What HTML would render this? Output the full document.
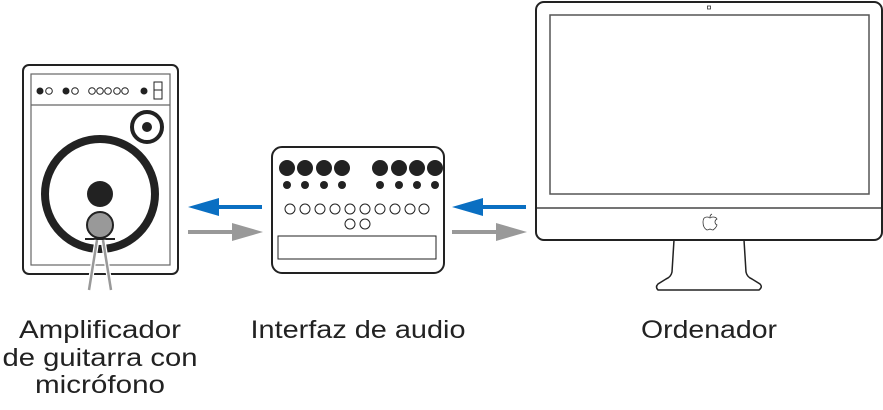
<!DOCTYPE html>
<html><head><meta charset="utf-8"><style>html,body{margin:0;padding:0;background:#fff}svg{display:block}</style></head>
<body>
<svg width="883" height="410" viewBox="0 0 883 410" xmlns="http://www.w3.org/2000/svg">
<!-- Amp -->
<rect x="23" y="65" width="155" height="209" rx="6" fill="#fff" stroke="#222" stroke-width="2"/>
<rect x="31" y="74" width="139" height="191" fill="none" stroke="#666" stroke-width="1.2"/>
<line x1="31" y1="105" x2="170" y2="105" stroke="#666" stroke-width="1.2"/>
<g fill="#222"><circle cx="40" cy="91" r="3.5"/><circle cx="66" cy="91" r="3.5"/><circle cx="144" cy="91" r="3.5"/></g>
<g fill="#fff" stroke="#222" stroke-width="1"><circle cx="49" cy="91" r="3.3"/><circle cx="75" cy="91" r="3.3"/><circle cx="92" cy="91" r="3.3"/><circle cx="100" cy="91" r="3.3"/><circle cx="108" cy="91" r="3.3"/><circle cx="117" cy="91" r="3.3"/><circle cx="125" cy="91" r="3.3"/></g>
<rect x="154" y="82" width="8" height="17" fill="#fff" stroke="#222" stroke-width="1"/>
<line x1="154" y1="90" x2="162" y2="90" stroke="#222" stroke-width="1"/>
<circle cx="147" cy="127" r="15" fill="none" stroke="#222" stroke-width="4"/>
<circle cx="147" cy="127" r="5" fill="#222"/>
<circle cx="100" cy="194" r="55" fill="none" stroke="#222" stroke-width="8"/>
<circle cx="100" cy="194" r="13" fill="#222"/>
<circle cx="100" cy="225" r="13" fill="#999" stroke="#222" stroke-width="2"/>
<line x1="85" y1="239" x2="115" y2="239" stroke="#222" stroke-width="2"/>
<line x1="97" y1="240" x2="89" y2="290" stroke="#fff" stroke-width="5"/>
<line x1="103" y1="240" x2="111" y2="290" stroke="#fff" stroke-width="5"/>
<line x1="97" y1="240" x2="89" y2="290" stroke="#999" stroke-width="2.5"/>
<line x1="103" y1="240" x2="111" y2="290" stroke="#999" stroke-width="2.5"/>
<!-- Arrows 1 -->
<line x1="215" y1="207" x2="262" y2="207" stroke="#0a6fc2" stroke-width="4"/>
<polygon points="188,207 219,198 219,216" fill="#0a6fc2"/>
<line x1="188" y1="232" x2="236" y2="232" stroke="#999" stroke-width="4"/>
<polygon points="263,232 232,223 232,241" fill="#999"/>
<!-- Interface -->
<rect x="272" y="147" width="172" height="126" rx="10" fill="#fff" stroke="#222" stroke-width="2"/>
<g fill="#222">
<circle cx="287" cy="168" r="8"/><circle cx="305" cy="168" r="8"/><circle cx="324" cy="168" r="8"/><circle cx="342" cy="168" r="8"/>
<circle cx="380" cy="168" r="8"/><circle cx="399" cy="168" r="8"/><circle cx="417" cy="168" r="8"/><circle cx="435" cy="168" r="8"/>
<circle cx="287" cy="185" r="4"/><circle cx="305" cy="185" r="4"/><circle cx="324" cy="185" r="4"/><circle cx="342" cy="185" r="4"/>
<circle cx="380" cy="185" r="4"/><circle cx="399" cy="185" r="4"/><circle cx="417" cy="185" r="4"/><circle cx="435" cy="185" r="4"/>
</g>
<g fill="#fff" stroke="#222" stroke-width="1">
<circle cx="290" cy="209" r="5"/><circle cx="305" cy="209" r="5"/><circle cx="320" cy="209" r="5"/><circle cx="335" cy="209" r="5"/><circle cx="350" cy="209" r="5"/><circle cx="365" cy="209" r="5"/><circle cx="380" cy="209" r="5"/><circle cx="395" cy="209" r="5"/><circle cx="410" cy="209" r="5"/><circle cx="424" cy="209" r="5"/>
<circle cx="350" cy="224" r="5"/><circle cx="365" cy="224" r="5"/>
</g>
<rect x="278" y="236" width="158" height="23" fill="none" stroke="#222" stroke-width="1"/>
<!-- Arrows 2 -->
<line x1="479" y1="207" x2="526" y2="207" stroke="#0a6fc2" stroke-width="4"/>
<polygon points="452,207 483,198 483,216" fill="#0a6fc2"/>
<line x1="452" y1="232" x2="500" y2="232" stroke="#999" stroke-width="4"/>
<polygon points="527,232 496,223 496,241" fill="#999"/>
<!-- Monitor -->
<path d="M674,240 L672,272 Q671,277 666,279 L658,284 Q655,287 658,290 L759,290 Q763,287 760,284 L752,279 Q747,277 746,272 L744,240" fill="#fff" stroke="#222" stroke-width="1.5"/>
<rect x="536" y="2" width="346" height="238" rx="8" fill="#fff" stroke="#222" stroke-width="2"/>
<rect x="550" y="15" width="319" height="179" fill="none" stroke="#555" stroke-width="1.5"/>
<line x1="536" y1="208" x2="882" y2="208" stroke="#222" stroke-width="1.2"/>
<rect x="707.5" y="6" width="3" height="3" fill="none" stroke="#333" stroke-width="0.8"/>
<path d="M710,218 q-1,-1 -3,-1 q-4,0 -4,5 q0,6 4,8 q1,0 3,-1 q2,1 3,1 q3,-2 4,-5 q-2,-1 -2,-3 q0,-2 2,-3 q-1,-2 -4,-2 q-2,0 -3,1 z M710,217 q0,-2 2,-3" fill="none" stroke="#333" stroke-width="0.8"/>
<!-- Labels -->
<g font-family="Liberation Sans, sans-serif" font-size="25" fill="#222" text-anchor="middle">
<text x="100" y="338" textLength="162" lengthAdjust="spacingAndGlyphs">Amplificador</text>
<text x="100" y="366" textLength="195" lengthAdjust="spacingAndGlyphs">de guitarra con</text>
<text x="100" y="393" textLength="130" lengthAdjust="spacingAndGlyphs">micrófono</text>
<text x="358" y="338" textLength="215" lengthAdjust="spacingAndGlyphs">Interfaz de audio</text>
<text x="709" y="338" textLength="136" lengthAdjust="spacingAndGlyphs">Ordenador</text>
</g>
</svg>
</body></html>
